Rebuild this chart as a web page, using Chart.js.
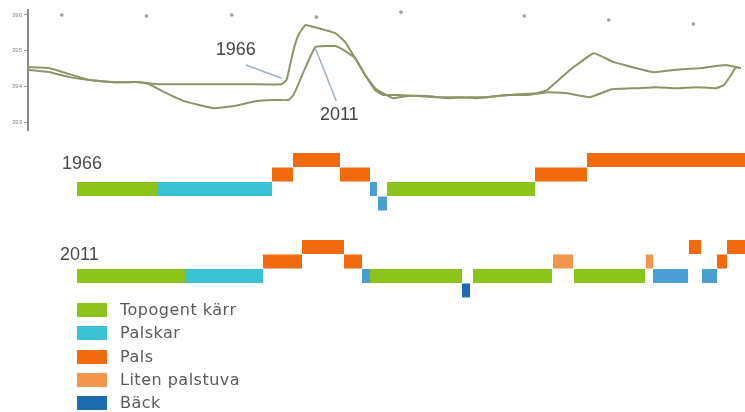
<!DOCTYPE html>
<html lang="sv">
<head>
<meta charset="UTF-8">
<title>Höjdprofil och vegetation 1966 och 2011</title>
<script src="https://cdn.jsdelivr.net/npm/chart.js"></script>
<style>
  body { margin: 0; background: #fff; font-family: "DejaVu Sans", sans-serif; }
  #wrap { position: relative; width: 745px; height: 412px; overflow: hidden; }
  #profil { position: absolute; left: 0; top: 0; }
  #remsor { position: absolute; left: 0; top: 145px; }
  .year { position: absolute; font: 18px "Liberation Sans", Arial, sans-serif; color: #4a4a4a; line-height: 18px; }
  #legend { position: absolute; left: 77px; top: 303px; list-style: none; margin: 0; padding: 0; }
  #legend li { display: flex; align-items: center; height: 14px; margin-bottom: 9.3px; font-size: 16px; letter-spacing: 0.5px; line-height: 14px; color: #5a5a5a; }
  #legend .box { width: 30px; height: 14px; margin-right: 13px; flex: none; }
</style>
</head>
<body>
<div id="wrap">
  <canvas id="profil" width="745" height="140"></canvas>
  <canvas id="remsor" width="745" height="160"></canvas>
  <div class="year" style="left:62px; top:154px;">1966</div>
  <div class="year" style="left:60px; top:245px;">2011</div>
  <ul id="legend"></ul>
</div>

<script>
// höjdprofil längs transekten (distans i m, höjd i m ö.h.)
var profil1966X = [0, 22, 42, 62, 87, 112, 132, 172, 222, 255, 260, 267, 272, 279, 292, 309, 319, 329, 339, 349, 357, 372, 392, 412, 432, 452, 472, 492, 512, 522, 545, 569, 589, 629, 649, 675, 702, 717];
var profil1966Y = [394.54, 394.51, 394.34, 394.18, 394.12, 394.12, 394.06, 394.06, 394.06, 394.06, 394.18, 395.02, 395.44, 395.72, 395.63, 395.49, 395.24, 394.79, 394.32, 393.90, 393.76, 393.76, 393.73, 393.70, 393.70, 393.67, 393.73, 393.78, 393.81, 393.90, 394.46, 394.93, 394.68, 394.40, 394.46, 394.51, 394.60, 394.51];
var profil2011X = [0, 22, 42, 62, 87, 112, 122, 137, 157, 172, 187, 207, 230, 247, 262, 267, 277, 289, 309, 319, 329, 339, 349, 357, 367, 382, 402, 422, 442, 462, 482, 502, 522, 542, 565, 587, 612, 632, 652, 672, 692, 700, 707, 712, 717];
var profil2011Y = [394.46, 394.40, 394.26, 394.18, 394.12, 394.12, 394.06, 393.84, 393.59, 393.48, 393.39, 393.45, 393.59, 393.62, 393.62, 393.76, 394.40, 395.10, 395.13, 394.99, 394.79, 394.32, 393.95, 393.81, 393.67, 393.73, 393.73, 393.67, 393.70, 393.70, 393.76, 393.76, 393.84, 393.81, 393.70, 393.92, 393.95, 393.98, 393.95, 393.98, 393.95, 394.04, 394.32, 394.54, 394.51];
var punktX = [34, 119, 205, 290, 375, 499, 584, 669];
var punktY = [396, 395.97, 396, 395.94, 396.08, 395.97, 395.86, 395.75];
var hojdTicks = [393, 394, 395, 396];

// vegetationsremsor: [start, slut, nivå, typ]
var remsa1966 = [
  [49, 129, 0, 'Topogent kärr'], [129, 244, 0, 'Palskar'], [244, 265, 1, 'Pals'],
  [265, 312, 2, 'Pals'], [312, 342, 1, 'Pals'], [342, 349, 0, 'Palskar (blå)'],
  [350, 359, -1, 'Palskar (blå)'], [359, 507, 0, 'Topogent kärr'], [507, 559, 1, 'Pals'],
  [559, 717, 2, 'Pals']
];
var remsa2011 = [
  [49, 157, 0, 'Topogent kärr'], [157, 235, 0, 'Palskar'], [235, 274, 1, 'Pals'],
  [274, 316, 2, 'Pals'], [316, 334, 1, 'Pals'], [334, 342, 0, 'Palskar (blå)'],
  [342, 434, 0, 'Topogent kärr'], [434, 442, -1, 'Bäck'], [445, 524, 0, 'Topogent kärr'],
  [525, 545, 1, 'Liten palstuva'], [546, 617, 0, 'Topogent kärr'], [618, 625, 1, 'Liten palstuva'],
  [625, 660, 0, 'Palskar (blå)'], [661, 673, 2, 'Pals'], [674, 689, 0, 'Palskar (blå)'],
  [689, 699, 1, 'Pals'], [699, 717, 2, 'Pals']
];
var legendTyper = ['Topogent kärr', 'Palskar', 'Pals', 'Liten palstuva', 'Bäck'];

var farger = {
  'Topogent kärr': '#8cc41c',
  'Palskar': '#3cc3d3',
  'Palskar (blå)': '#4a9ed4',
  'Pals': '#f26a0e',
  'Liten palstuva': '#f3964c',
  'Bäck': '#1d6cb0'
};

function punkter(xs, ys) {
  return xs.map(function (x, i) { return { x: x, y: ys[i] }; });
}

// etiketter med hänvisningslinjer i profilen
var etiketter = {
  id: 'etiketter',
  afterDatasetsDraw: function (chart) {
    var xs = chart.scales.x, ys = chart.scales.y, ctx = chart.ctx;
    var lista = [
      { text: '1966', tx: 209, ty: 395.02, from: [219, 394.60], to: [255, 394.23] },
      { text: '2011', tx: 313, ty: 393.21, from: [310, 393.59], to: [289, 395.07] }
    ];
    ctx.save();
    lista.forEach(function (e) {
      ctx.strokeStyle = '#9fb0c2';
      ctx.lineWidth = 1.5;
      ctx.beginPath();
      ctx.moveTo(xs.getPixelForValue(e.from[0]), ys.getPixelForValue(e.from[1]));
      ctx.lineTo(xs.getPixelForValue(e.to[0]), ys.getPixelForValue(e.to[1]));
      ctx.stroke();
      ctx.fillStyle = '#444';
      ctx.font = '18px "Liberation Sans", Arial, sans-serif';
      ctx.textAlign = 'center';
      ctx.textBaseline = 'middle';
      ctx.fillText(e.text, xs.getPixelForValue(e.tx), ys.getPixelForValue(e.ty));
    });
    ctx.restore();
  }
};

new Chart(document.getElementById('profil'), {
  type: 'line',
  data: {
    datasets: [
      { label: '1966', data: punkter(profil1966X, profil1966Y), borderColor: '#8f9466', borderWidth: 2, pointRadius: 0, tension: 0.1 },
      { label: '2011', data: punkter(profil2011X, profil2011Y), borderColor: '#8f9466', borderWidth: 2, pointRadius: 0, tension: 0.1 },
      { type: 'scatter', label: 'punkter', data: punkter(punktX, punktY), pointRadius: 1.8, pointBackgroundColor: '#a0a0a0', pointBorderWidth: 0 }
    ]
  },
  options: {
    responsive: false,
    animation: false,
    layout: { padding: { top: 10, bottom: 10, left: 0, right: 0 } },
    plugins: { legend: { display: false }, tooltip: { enabled: false } },
    scales: {
      x: { type: 'linear', min: 0, max: 717, display: false },
      y: {
        min: 392.78, max: 396.14,
        afterFit: function (s) { s.width = 28; },
        afterBuildTicks: function (s) { s.ticks = hojdTicks.map(function (v) { return { value: v }; }); },
        ticks: { font: { size: 6, family: 'Liberation Sans' }, color: '#8a8a8a', padding: 2 },
        grid: { drawOnChartArea: false, tickLength: 4, color: '#999' },
        border: { color: '#8a8a8a', width: 2 }
      }
    }
  },
  plugins: [etiketter]
});

// rader i remsdiagrammet
var rader = ['1966 +2', '1966 +1', '1966 0', '1966 -1', 'mellan1', 'mellan2', '2011 +2', '2011 +1', '2011 0', '2011 -1'];
function rad(ar, niva) { return ar + ' ' + (niva > 0 ? '+' : '') + niva; }

var typer = Object.keys(farger);
var remsData = typer.map(function (typ) {
  var d = [];
  remsa1966.forEach(function (s) { if (s[3] === typ) d.push({ x: [s[0], s[1]], y: rad(1966, s[2]) }); });
  remsa2011.forEach(function (s) { if (s[3] === typ) d.push({ x: [s[0], s[1]], y: rad(2011, s[2]) }); });
  return {
    label: typ,
    data: d,
    backgroundColor: farger[typ],
    grouped: false,
    barPercentage: 1,
    categoryPercentage: 0.97
  };
});

new Chart(document.getElementById('remsor'), {
  type: 'bar',
  data: { labels: rader, datasets: remsData },
  options: {
    indexAxis: 'y',
    responsive: false,
    animation: false,
    layout: { padding: { top: 7.75, bottom: 7.25, left: 28, right: 0 } },
    plugins: { legend: { display: false }, tooltip: { enabled: false } },
    scales: {
      x: { type: 'linear', min: 0, max: 717, display: false },
      y: { type: 'category', display: false }
    }
  }
});

// förklaring
var ul = document.getElementById('legend');
legendTyper.forEach(function (typ) {
  var li = document.createElement('li');
  var box = document.createElement('span');
  box.className = 'box';
  box.style.background = farger[typ];
  li.appendChild(box);
  li.appendChild(document.createTextNode(typ));
  ul.appendChild(li);
});
</script>
</body>
</html>
